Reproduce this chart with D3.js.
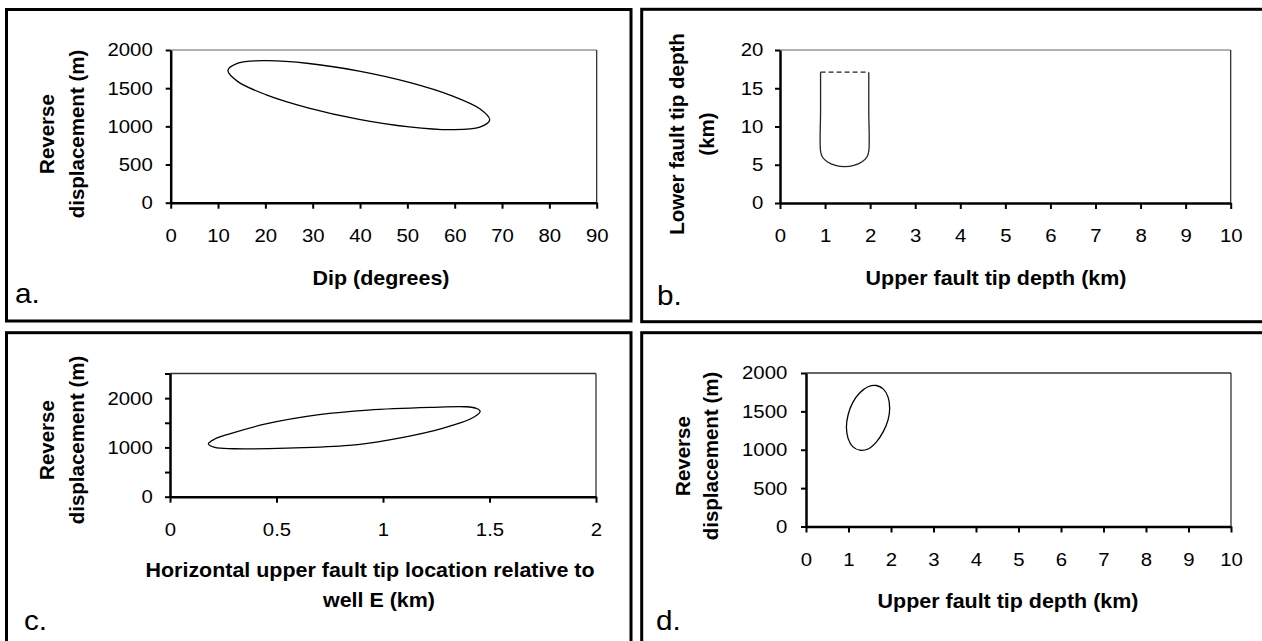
<!DOCTYPE html>
<html>
<head>
<meta charset="utf-8">
<script src="https://cdn.jsdelivr.net/npm/d3@7"></script>
<style>
  body { margin: 0; background: #fff; }
  svg { display: block; font-family: "Liberation Sans", Arial, sans-serif; }
</style>
</head>
<body>
<svg width="1262" height="641"></svg>
<script>
// a. dip vs reverse displacement (closed outline, read round the curve)
const dipA  = [67.4, 65.3, 59.3, 50.4, 39.8, 29.2, 20.2, 14.2, 12.1, 14.2, 20.2, 29.2, 39.8, 50.4, 59.3, 65.3];
const dispA = [1085, 1230, 1403, 1576, 1724, 1823, 1860, 1827, 1731, 1586, 1413, 1240, 1092, 993, 956, 989];

// b. upper vs lower fault tip depth (open U, dashed cap)
const upperB = [0.90, 0.90, 0.90, 0.941, 1.057, 1.230, 1.435, 1.640, 1.813, 1.929, 1.97, 1.97, 1.97];
const lowerB = [17.1, 12, 6.8, 6.01, 5.35, 4.91, 4.75, 4.91, 5.35, 6.01, 6.8, 12, 17.1];
const upperCapB = [0.90, 1.97];
const lowerCapB = [17.1, 17.1];

// c. horizontal location vs reverse displacement
const locC  = [0.18, 0.21, 0.28, 0.45, 0.70, 0.93, 1.22, 1.39, 1.44, 1.456, 1.41, 1.32, 1.24, 1.03, 0.84, 0.55, 0.30, 0.21];
const dispC = [1074, 1170, 1275, 1476, 1664, 1758, 1812, 1825, 1790, 1731, 1577, 1443, 1342, 1154, 1040, 986, 973, 1000];

// d. upper fault tip depth vs reverse displacement
const upperD = [1.969, 1.931, 1.821, 1.654, 1.460, 1.266, 1.099, 0.991, 0.951, 0.991, 1.099, 1.266, 1.460, 1.654, 1.821, 1.931];
const dispD  = [1539, 1686, 1790, 1837, 1821, 1743, 1614, 1456, 1292, 1145, 1041, 994, 1010, 1100, 1240, 1390];

// tick values / labels
const dipTicks = [0, 10, 20, 30, 40, 50, 60, 70, 80, 90];
const dispTicks = [0, 500, 1000, 1500, 2000];
const depthTicks = [0, 1, 2, 3, 4, 5, 6, 7, 8, 9, 10];
const lowerTicks = [0, 5, 10, 15, 20];
const locTicks = [0, 0.5, 1, 1.5, 2];
const dispTicksC = [0, 500, 1000, 1500, 2000, 2500];
const dispLabelsC = [0, 1000, 2000];

(function (d3) {
  'use strict';

  const svg = d3.select('svg');
  const sx = 1.1; // glyphs in the picture are a little wide

  const drawPanel = p => {
    const g = svg.append('g');

    g.append('rect')
      .attr('x', p.frame[0]).attr('y', p.frame[1])
      .attr('width', p.frame[2]).attr('height', p.frame[3])
      .attr('fill', 'none')
      .attr('stroke', '#000')
      .attr('stroke-width', 3);

    const xScale = d3.scaleLinear().domain(p.xDomain).range([p.box.left, p.box.right]);
    const yScale = d3.scaleLinear().domain(p.yDomain).range([p.box.bottom, p.box.top]);

    // top / right edge of the plot area
    g.append('line')
      .attr('x1', p.box.left).attr('x2', p.box.right)
      .attr('y1', p.box.top).attr('y2', p.box.top)
      .attr('stroke', p.topColor).attr('stroke-width', 1.5);
    g.append('line')
      .attr('x1', p.box.right).attr('x2', p.box.right)
      .attr('y1', p.box.top).attr('y2', p.box.bottom)
      .attr('stroke', '#222').attr('stroke-width', 1.2);

    const xAxis = d3.axisBottom(xScale)
      .tickValues(p.xTicks)
      .tickFormat(d => d)
      .tickSize(6)
      .tickSizeOuter(0)
      .tickPadding(20);

    const yAxis = d3.axisLeft(yScale)
      .tickValues(p.yTicks)
      .tickFormat(d => (p.yLabels.includes(d) ? d : ''))
      .tickSize(5)
      .tickSizeOuter(0);

    const xAxisG = g.append('g')
      .attr('transform', `translate(0,${p.box.bottom})`)
      .call(xAxis);
    const yAxisG = g.append('g')
      .attr('transform', `translate(${p.box.left},0)`)
      .call(yAxis);

    [xAxisG, yAxisG].forEach(a => {
      a.select('.domain').attr('stroke', '#000').attr('stroke-width', 2.5);
      a.selectAll('.tick line').attr('stroke', '#000').attr('stroke-width', 2);
      a.selectAll('.tick text')
        .attr('fill', '#000')
        .attr('font-size', 18.5)
        .attr('transform', `scale(${sx},1)`);
    });
    yAxisG.selectAll('.tick text').attr('x', -p.yGap / sx);

    // x title
    p.xTitle.forEach(t => {
      g.append('text')
        .attr('transform', `translate(${t.x},${t.y}) scale(${sx},1)`)
        .attr('text-anchor', 'middle')
        .attr('font-size', 19.5)
        .attr('font-weight', 'bold')
        .text(t.text);
    });

    // y title, two rotated lines
    p.yTitle.forEach(t => {
      g.append('text')
        .attr('transform', `translate(${t.x},${p.yTitleMid}) rotate(-90)`)
        .attr('text-anchor', 'middle')
        .attr('font-size', 20.5)
        .attr('font-weight', 'bold')
        .text(t.text);
    });

    g.append('text')
      .attr('transform', `translate(${p.letter.x},${p.letter.y}) scale(${sx},1)`)
      .attr('font-size', 27)
      .text(p.letter.text);

    return { g, xScale, yScale };
  };

  const outline = (g, xScale, yScale, xs, ys, curve) => {
    const line = d3.line()
      .x(i => xScale(xs[i]))
      .y(i => yScale(ys[i]))
      .curve(curve);
    return g.append('path')
      .attr('d', line(d3.range(xs.length)))
      .attr('fill', 'none')
      .attr('stroke', '#000')
      .attr('stroke-width', 1.3);
  };

  // a.
  const pa = drawPanel({
    frame: [6.5, 9.5, 624.5, 311.5],
    box: { left: 170.7, right: 596.7, top: 50, bottom: 202.7 },
    xDomain: [0, 90], yDomain: [0, 2000],
    xTicks: dipTicks, yTicks: dispTicks, yLabels: dispTicks,
    yGap: 18, topColor: '#999',
    xTitle: [{ text: 'Dip (degrees)', x: 381, y: 284.5 }],
    yTitle: [{ text: 'Reverse', x: 54 }, { text: 'displacement (m)', x: 84 }],
    yTitleMid: 134,
    letter: { text: 'a.', x: 15, y: 303 }
  });
  outline(pa.g, pa.xScale, pa.yScale, dipA, dispA, d3.curveCatmullRomClosed.alpha(0.5));

  // b.
  const pb = drawPanel({
    frame: [641.7, 9.3, 640, 312.4],
    box: { left: 780, right: 1230.7, top: 50, bottom: 203 },
    xDomain: [0, 10], yDomain: [0, 20],
    xTicks: depthTicks, yTicks: lowerTicks, yLabels: lowerTicks,
    yGap: 16.7, topColor: '#999',
    xTitle: [{ text: 'Upper fault tip depth (km)', x: 996, y: 284.5 }],
    yTitle: [{ text: 'Lower fault tip depth', x: 684 }, { text: '(km)', x: 714 }],
    yTitleMid: 134,
    letter: { text: 'b.', x: 657, y: 305 }
  });
  outline(pb.g, pb.xScale, pb.yScale, upperB, lowerB, d3.curveCatmullRom.alpha(0.5))
    .attr('stroke', '#222');
  outline(pb.g, pb.xScale, pb.yScale, upperCapB, lowerCapB, d3.curveLinear)
    .attr('stroke', '#222')
    .attr('stroke-dasharray', '5,3');

  // c.
  const pc = drawPanel({
    frame: [6.5, 332.7, 624.5, 330],
    box: { left: 170, right: 596, top: 373.5, bottom: 496.7 },
    xDomain: [0, 2], yDomain: [0, 2500],
    xTicks: locTicks, yTicks: dispTicksC, yLabels: dispLabelsC,
    yGap: 17.3, topColor: '#333',
    xTitle: [
      { text: 'Horizontal upper fault tip location relative to', x: 370, y: 577 },
      { text: 'well E (km)', x: 379, y: 607 }
    ],
    yTitle: [{ text: 'Reverse', x: 54 }, { text: 'displacement (m)', x: 84 }],
    yTitleMid: 440,
    letter: { text: 'c.', x: 24, y: 630 }
  });
  outline(pc.g, pc.xScale, pc.yScale, locC, dispC, d3.curveCatmullRomClosed.alpha(0.5));

  // d.
  const pd = drawPanel({
    frame: [641.7, 332.7, 640, 330],
    box: { left: 806, right: 1231, top: 373, bottom: 526.5 },
    xDomain: [0, 10], yDomain: [0, 2000],
    xTicks: depthTicks, yTicks: dispTicks, yLabels: dispTicks,
    yGap: 18.7, topColor: '#333',
    xTitle: [{ text: 'Upper fault tip depth (km)', x: 1008, y: 608 }],
    yTitle: [{ text: 'Reverse', x: 690 }, { text: 'displacement (m)', x: 718 }],
    yTitleMid: 456,
    letter: { text: 'd.', x: 656, y: 630 }
  });
  outline(pd.g, pd.xScale, pd.yScale, upperD, dispD, d3.curveCatmullRomClosed.alpha(0.5));

}(d3));
</script>
</body>
</html>
